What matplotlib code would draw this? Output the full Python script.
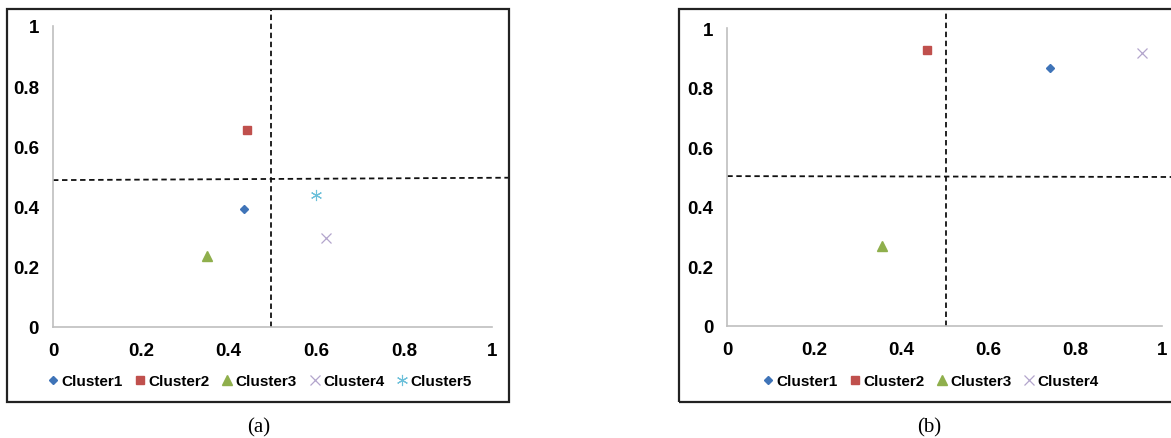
import matplotlib.pyplot as plt
from matplotlib.patches import Rectangle

# panel (a) - five clusters
names_a = ['Cluster1', 'Cluster2', 'Cluster3', 'Cluster4', 'Cluster5']
x_a = [0.434, 0.441, 0.350, 0.623, 0.598]
y_a = [0.391, 0.653, 0.235, 0.297, 0.439]

# panel (b) - four clusters
names_b = ['Cluster1', 'Cluster2', 'Cluster3', 'Cluster4']
x_b = [0.744, 0.460, 0.355, 0.955]
y_b = [0.866, 0.927, 0.267, 0.916]

# quadrant divider lines (x of vertical, y of horizontal at left / right end)
split_a = (0.497, 0.488, 0.496)
split_b = (0.503, 0.503, 0.500)

ticks = [0, 0.2, 0.4, 0.6, 0.8, 1]
tick_labels = ['0', '0.2', '0.4', '0.6', '0.8', '1']

styles = [
    dict(marker='D', ms=4.2, color='#3f74b8', mec='#3f74b8'),
    dict(marker='s', ms=6, color='#c0504d', mec='#c0504d'),
    dict(marker='^', ms=6.5, color='#8faf4c', mec='#8faf4c'),
    dict(marker='x', ms=7, color='#b3a5cc', mew=0.9),
    dict(marker=(6, 2, 0), ms=8, color='#6cc0da', mew=0.8),
]

W, H = 1171, 439
fig = plt.figure(figsize=(W / 100, H / 100), dpi=100)
plt.rcParams['font.family'] = ['Liberation Sans', 'DejaVu Sans']


def px_axes(x0, y0, x1, y1):
    return fig.add_axes([x0 / W, 1 - y1 / H, (x1 - x0) / W, (y1 - y0) / H])


def draw_panel(ax, names, xs, ys, split, vtop, hright, legend_center, caption, cap_x):
    for i in range(len(names)):
        ax.plot([xs[i]], [ys[i]], linestyle='none', label=names[i], **styles[i])
    ax.set_xlim(0, 1)
    ax.set_ylim(0, 1)
    ax.set_xticks(ticks)
    ax.set_yticks(ticks)
    ax.set_xticklabels(tick_labels, fontsize=13.5, fontweight='bold')
    ax.set_yticklabels(tick_labels, fontsize=13.5, fontweight='bold')
    ax.tick_params(length=0)
    ax.tick_params(axis='x', pad=11)
    ax.tick_params(axis='y', pad=10)
    for s in ['top', 'right']:
        ax.spines[s].set_visible(False)
    for s in ['left', 'bottom']:
        ax.spines[s].set_color('#bfbfbf')
        ax.spines[s].set_linewidth(1.2)
    ax.patch.set_alpha(0)

    dash = (0, (3.0, 2.0))
    ax.plot([split[0], split[0]], [0, vtop], color='#111111', lw=1.3,
            linestyle=dash, clip_on=False)
    ax.plot([0, hright], [split[1], split[2]], color='#111111', lw=1.3,
            linestyle=dash, clip_on=False)

    ax.legend(loc='center', bbox_to_anchor=(legend_center[0] / W, 1 - legend_center[1] / H),
              bbox_transform=fig.transFigure, ncol=len(names), frameon=False,
              borderpad=0, handlelength=0.6, handletextpad=0.25, columnspacing=0.85,
              prop={'weight': 'bold', 'size': 11})

    fig.text(cap_x / W, 1 - 428 / H, caption, ha='center', va='center',
             fontsize=15, family=['Liberation Serif', 'DejaVu Serif'])


# outer frames
fig.patches.append(Rectangle((7 / W, 1 - 403 / H), 502 / W, 393 / H, fill=False,
                             edgecolor='#222222', lw=1.6, transform=fig.transFigure))
fig.patches.append(Rectangle((679 / W, 1 - 403 / H), 520 / W, 393 / H, fill=False,
                             edgecolor='#222222', lw=1.6, transform=fig.transFigure))

ax1 = px_axes(53, 27, 492, 328)
draw_panel(ax1, names_a, x_a, y_a, split_a, 1.056, 1.039, (260, 382), '(a)', 259)

ax2 = px_axes(727.3, 29.3, 1161.7, 326.7)
draw_panel(ax2, names_b, x_b, y_b, split_b, 1.065, 1.03, (931, 382), '(b)', 929)

fig.savefig('out.png', dpi=100)
